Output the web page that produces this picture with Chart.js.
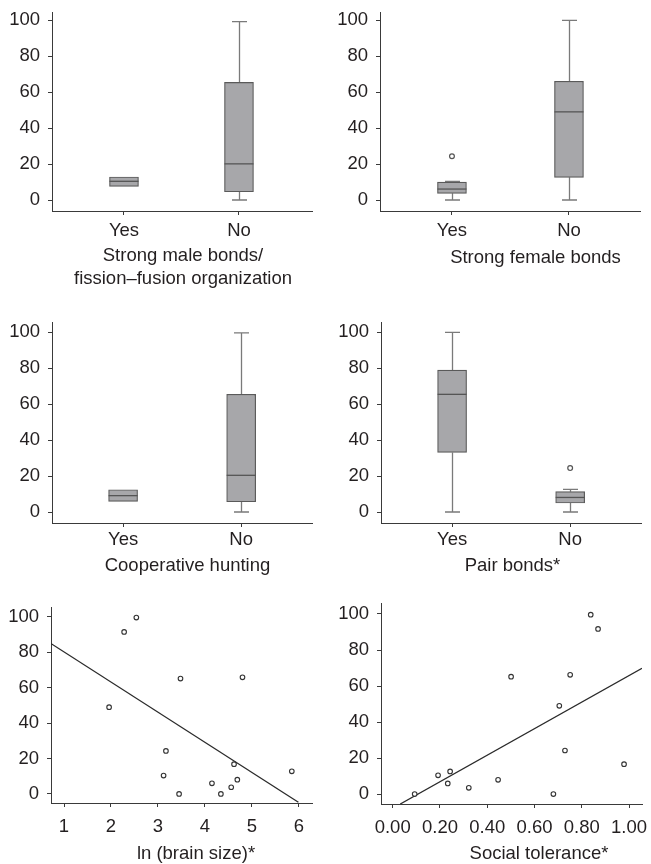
<!DOCTYPE html>
<html>
<head>
<meta charset="utf-8">
<script src="https://cdn.jsdelivr.net/npm/chart.js@4.4.0/dist/chart.umd.min.js"></script>
<style>
html,body{margin:0;padding:0;background:#fff;overflow:hidden;}
#wrap{position:relative;width:651px;height:864px;background:#fff;}
canvas{position:absolute;display:block;}
</style>
</head>
<body>
<div id="wrap">
<canvas id="c1" width="325" height="290" style="left:0px;top:0px"></canvas>
<canvas id="c2" width="326" height="290" style="left:325px;top:0px"></canvas>
<canvas id="c3" width="325" height="290" style="left:0px;top:290px"></canvas>
<canvas id="c4" width="326" height="290" style="left:325px;top:290px"></canvas>
<canvas id="c5" width="325" height="284" style="left:0px;top:580px"></canvas>
<canvas id="c6" width="326" height="284" style="left:325px;top:580px"></canvas>
</div>
<script>
// ---------- data ----------
const groupLabels = ['Yes', 'No'];
const yTickValues = [0, 20, 40, 60, 80, 100];

// five-number summaries: [min, q1, median, q3, max]
const maleBondsYes = [7.6, 7.6, 10.4, 12.8, 12.8];
const maleBondsNo = [0, 4.6, 20.1, 65.4, 99.1];
const maleBondsOutliers = [[], []];

const femaleBondsYes = [0, 3.7, 6.1, 10.0, 10.4];
const femaleBondsNo = [0, 12.6, 49.0, 66.0, 99.8];
const femaleBondsOutliers = [[24.3], []];

const huntingYes = [5.9, 5.9, 9.1, 12.4, 12.4];
const huntingNo = [0, 5.7, 20.4, 65.4, 99.6];
const huntingOutliers = [[], []];

const pairBondsYes = [0, 33.1, 65.4, 78.9, 99.8];
const pairBondsNo = [0, 5.0, 8.1, 11.3, 12.6];
const pairBondsOutliers = [[], [24.4]];

const brainSize = [1.96, 2.28, 2.54, 3.48, 4.80, 3.17, 3.12, 3.45, 4.15, 4.34, 4.56, 4.62, 4.69, 5.85];
const brainValue = [49.0, 91.5, 99.6, 65.2, 65.9, 24.3, 10.4, 0, 6.0, 0, 3.8, 16.8, 8.1, 12.8];
const brainFitX = [0.72, 5.99];
const brainFitY = [85.0, -4.7];
const brainTicks = [1, 2, 3, 4, 5, 6];

const tolerance = [0.093, 0.192, 0.243, 0.233, 0.322, 0.446, 0.501, 0.680, 0.705, 0.729, 0.751, 0.838, 0.869, 0.979];
const toleranceValue = [0, 10.4, 12.6, 5.9, 3.5, 7.9, 65.2, 0, 49.0, 24.2, 66.2, 99.6, 91.7, 16.6];
const toleranceFitX = [0.032, 1.055];
const toleranceFitY = [-5.5, 69.9];
const toleranceTicks = [0, 0.2, 0.4, 0.6, 0.8, 1.0];

const titleMale = ['Strong male bonds/', 'fission\u2013fusion organization'];
const titleFemale = ['Strong female bonds'];
const titleHunting = ['Cooperative hunting'];
const titlePair = ['Pair bonds*'];
const titleBrain = ['ln (brain size)*'];
const titleTolerance = ['Social tolerance*'];

// ---------- style ----------
const FONT = "'Liberation Sans', Arial, Helvetica, sans-serif";
const FSIZE = 18.5;
const TEXT = '#231f20';
const AXIS = '#3a3a3a';
const BOX_FILL = '#a7a7aa';
const BOX_EDGE = '#5a5a5a';
const WHISKER = '#7a7a7a';
const MEDIAN = '#555555';

Chart.defaults.font.family = FONT;
Chart.defaults.font.size = FSIZE;
Chart.defaults.color = TEXT;
Chart.defaults.animation = false;
Chart.defaults.plugins.legend.display = false;
Chart.defaults.plugins.tooltip.enabled = false;

const boxPlugin = {
  id: 'boxWhiskers',
  beforeDatasetsDraw(chart, args, opts) {
    if (!opts || !opts.stats) return;
    const {ctx} = chart; const x = chart.scales.x, y = chart.scales.y;
    ctx.save();
    ctx.strokeStyle = WHISKER; ctx.lineWidth = 1.3;
    const cap = opts.capWidth / 2;
    opts.stats.forEach((s, i) => {
      const cx = Math.round(x.getPixelForValue(i)) + 0.5;
      ctx.beginPath();
      if (s[4] > s[3]) {
        ctx.moveTo(cx, y.getPixelForValue(s[3])); ctx.lineTo(cx, y.getPixelForValue(s[4]));
        ctx.moveTo(cx - cap, y.getPixelForValue(s[4])); ctx.lineTo(cx + cap, y.getPixelForValue(s[4]));
      }
      if (s[0] < s[1]) {
        ctx.moveTo(cx, y.getPixelForValue(s[1])); ctx.lineTo(cx, y.getPixelForValue(s[0]));
        ctx.moveTo(cx - cap, y.getPixelForValue(s[0])); ctx.lineTo(cx + cap, y.getPixelForValue(s[0]));
      }
      ctx.stroke();
    });
    ctx.restore();
  },
  afterDatasetsDraw(chart, args, opts) {
    if (!opts || !opts.stats) return;
    const {ctx} = chart; const x = chart.scales.x, y = chart.scales.y;
    ctx.save();
    ctx.strokeStyle = MEDIAN; ctx.lineWidth = 1.3;
    const half = opts.boxWidth / 2;
    opts.stats.forEach((s, i) => {
      const cx = x.getPixelForValue(i);
      const my = y.getPixelForValue(s[2]);
      ctx.beginPath(); ctx.moveTo(cx - half, my); ctx.lineTo(cx + half, my); ctx.stroke();
    });
    ctx.restore();
  }
};

const titlePlugin = {
  id: 'panelTitle',
  afterDraw(chart, args, opts) {
    if (!opts || !opts.lines) return;
    const {ctx} = chart;
    ctx.save();
    ctx.font = FSIZE + 'px ' + FONT;
    ctx.fillStyle = TEXT;
    ctx.textAlign = 'center';
    ctx.textBaseline = 'middle';
    opts.lines.forEach((t, i) => ctx.fillText(t, opts.x, opts.y + i * opts.gap));
    ctx.restore();
  }
};

function yAxis(min, max, width) {
  return {
    type: 'linear', position: 'left', min: min, max: max,
    grid: {display: true, drawOnChartArea: false, drawTicks: true, tickLength: 4, color: AXIS, lineWidth: 1},
    border: {display: true, color: AXIS, width: 1},
    ticks: {padding: 8, autoSkip: false, color: TEXT},
    afterBuildTicks: s => { s.ticks = yTickValues.map(v => ({value: v})); },
    afterFit: s => { s.width = width; s.paddingTop = 0; s.paddingBottom = 0; }
  };
}
function xAxis(min, max, height, pad, tickVals, fmt) {
  return {
    type: 'linear', position: 'bottom', min: min, max: max, offset: false,
    grid: {display: true, offset: false, drawOnChartArea: false, drawTicks: true, tickLength: 4, color: AXIS, lineWidth: 1},
    border: {display: true, color: AXIS, width: 1},
    ticks: {padding: pad, autoSkip: false, maxRotation: 0, minRotation: 0, color: TEXT, callback: fmt},
    afterBuildTicks: s => { s.ticks = tickVals.map(v => ({value: v})); },
    afterFit: s => { s.height = height; s.paddingLeft = 0; s.paddingRight = 0; }
  };
}

function boxChart(id, g, yes, no, outliers, title) {
  const stats = [yes, no];
  const outPts = [];
  outliers.forEach((arr, i) => arr.forEach(v => outPts.push({x: i, y: v})));
  new Chart(document.getElementById(id), {
    type: 'bar',
    data: {datasets: [
      {type: 'bar', data: stats.map((s, i) => ({x: i, y: [s[1], s[3]]})),
       backgroundColor: BOX_FILL, borderColor: BOX_EDGE, borderWidth: 1.2, borderSkipped: false,
       barThickness: 29, order: 2},
      {type: 'scatter', data: outPts, pointRadius: 2.4, pointBorderWidth: 1.2,
       pointBorderColor: '#555', pointBackgroundColor: '#fff', order: 1}
    ]},
    options: {
      responsive: false,
      layout: {padding: {left: 0, top: g.top - g.T, right: g.L + g.W - g.right, bottom: 0}},
      scales: {
        x: xAxis(g.xmin, g.xmax, g.T + g.H - g.bottom, g.xpad, [0, 1], v => groupLabels[v]),
        y: yAxis(g.ymin, g.ymax, g.left - g.L)
      },
      plugins: {
        boxWhiskers: {stats: stats, boxWidth: 29, capWidth: 15},
        panelTitle: {lines: title, x: g.tx, y: g.ty, gap: 22.5}
      }
    },
    plugins: [boxPlugin, titlePlugin]
  });
}

function scatterChart(id, g, xs, ys, fitX, fitY, ticks, fmt, title) {
  new Chart(document.getElementById(id), {
    type: 'scatter',
    data: {datasets: [
      {type: 'scatter', data: xs.map((v, i) => ({x: v, y: ys[i]})), pointRadius: 2.3, pointBorderWidth: 1.1,
       pointBorderColor: '#333', pointBackgroundColor: '#fff', order: 1},
      {type: 'line', data: fitX.map((v, i) => ({x: v, y: fitY[i]})), borderColor: '#2a2a2a', borderWidth: 1.3,
       pointRadius: 0, fill: false, showLine: true, order: 2}
    ]},
    options: {
      responsive: false,
      layout: {padding: {left: 0, top: g.top - g.T, right: g.L + g.W - g.right, bottom: 0}},
      scales: {
        x: xAxis(g.xmin, g.xmax, g.T + g.H - g.bottom, g.xpad, ticks, fmt),
        y: yAxis(g.ymin, g.ymax, g.left - g.L)
      },
      plugins: {panelTitle: {lines: title, x: g.tx, y: g.ty, gap: 22.5}}
    },
    plugins: [titlePlugin]
  });
}

boxChart('c1', {L: 0, T: 0, W: 325, H: 290, left: 52, right: 312, top: 12, bottom: 211,
  xmin: -0.626, xmax: 1.635, ymin: -6.1, ymax: 104.5, xpad: 4.5, tx: 183, ty: 256.3},
  maleBondsYes, maleBondsNo, maleBondsOutliers, titleMale);

boxChart('c2', {L: 325, T: 0, W: 326, H: 290, left: 380, right: 640, top: 12, bottom: 211,
  xmin: -0.615, xmax: 1.607, ymin: -6.1, ymax: 104.5, xpad: 4.5, tx: 210.5, ty: 258},
  femaleBondsYes, femaleBondsNo, femaleBondsOutliers, titleFemale);

boxChart('c3', {L: 0, T: 290, W: 325, H: 290, left: 52, right: 312, top: 322, bottom: 523,
  xmin: -0.602, xmax: 1.60, ymin: -6.1, ymax: 105.6, xpad: 1.5, tx: 187.5, ty: 275.5},
  huntingYes, huntingNo, huntingOutliers, titleHunting);

boxChart('c4', {L: 325, T: 290, W: 326, H: 290, left: 381, right: 641, top: 322, bottom: 523,
  xmin: -0.602, xmax: 1.60, ymin: -6.1, ymax: 105.6, xpad: 1.5, tx: 187.5, ty: 275.5},
  pairBondsYes, pairBondsNo, pairBondsOutliers, titlePair);

scatterChart('c5', {L: 0, T: 580, W: 325, H: 284, left: 51, right: 312, top: 607, bottom: 803,
  xmin: 0.723, xmax: 6.28, ymin: -5.1, ymax: 105.6, xpad: 9, tx: 196, ty: 273.7},
  brainSize, brainValue, brainFitX, brainFitY, brainTicks, v => String(v), titleBrain);

scatterChart('c6', {L: 325, T: 580, W: 326, H: 284, left: 381, right: 642, top: 603, bottom: 804,
  xmin: -0.0495, xmax: 1.055, ymin: -5.5, ymax: 106.1, xpad: 9, tx: 214, ty: 273.7},
  tolerance, toleranceValue, toleranceFitX, toleranceFitY, toleranceTicks, v => Number(v).toFixed(2), titleTolerance);
</script>
</body>
</html>
